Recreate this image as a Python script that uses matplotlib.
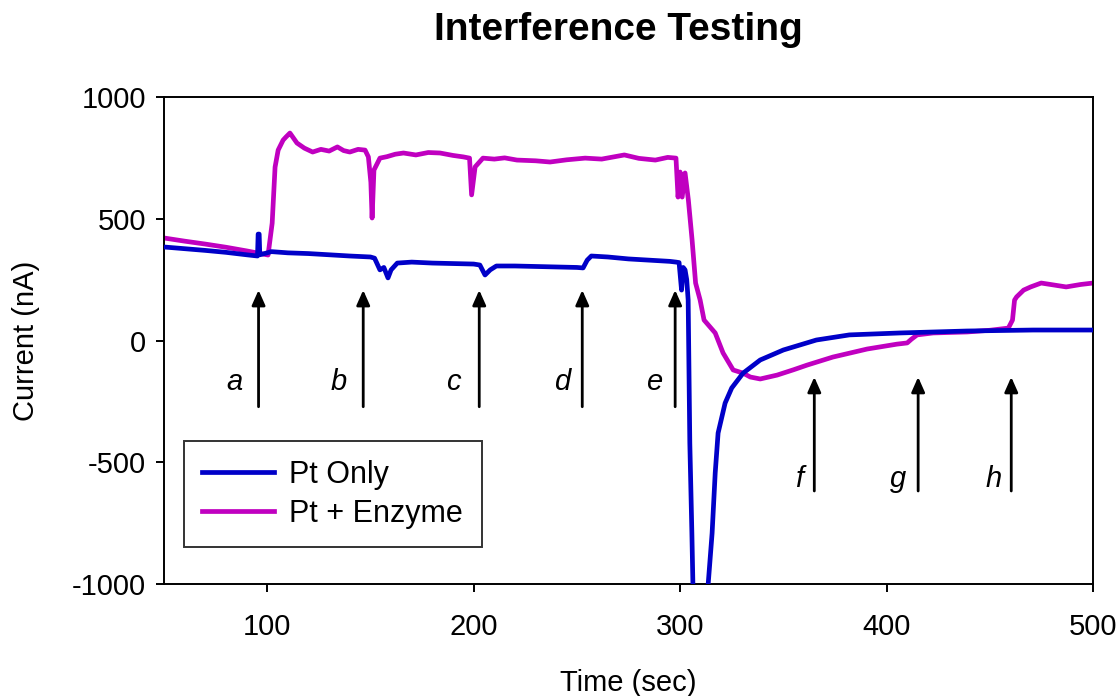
import matplotlib
matplotlib.use("Agg")
import matplotlib.pyplot as plt

plt.rcParams['font.family'] = ['Liberation Sans', 'DejaVu Sans']
plt.rcParams['axes.unicode_minus'] = False

# ---- data ----
pt_only_t = [50, 60, 70, 80, 90, 95.3, 95.6, 96.1, 96.4, 100, 102, 110, 120, 130, 140,
             150, 152, 154.6, 156.5, 158.5, 160, 163, 170, 180, 190, 200, 203, 205.5,
             208, 211, 220, 230, 240, 250, 253, 255, 257, 265, 275, 285, 295, 298,
             299.5, 300.7, 301.5, 302.4, 303.2, 303.9, 304.7, 305.7, 306.2, 306.8,
             313.2, 313.6, 315.5, 317, 318.4, 321.8, 325, 330.5, 338.8, 350, 366,
             382, 406.6, 439, 471, 500]
pt_only_v = [384, 377, 370, 362, 352, 347, 437, 437, 352, 360, 365, 360, 357, 352, 347,
             343, 338, 290, 300, 257, 290, 318, 322, 318, 316, 314, 310, 269,
             290, 306, 306, 304, 302, 300, 298, 330, 347, 343, 335, 330, 325, 322,
             320, 207, 300, 290, 250, 166, -421, -791, -1000, -1100,
             -1100, -1000, -791, -544, -380, -257, -195, -134, -80, -39, 2,
             23, 31, 39, 43, 43]

enzyme_t = [50, 60, 70, 80, 90, 100.4, 102.4, 103.8, 105.3, 107.7, 109, 111, 112, 114.4,
            118, 122, 126, 130, 134, 137, 140, 144, 147.4, 149, 150.2, 150.8, 151.7,
            154.6, 158, 162, 166, 172, 178, 183.7, 190, 195, 198, 199, 200.7, 204.5,
            210, 215, 221, 230, 237, 245, 254, 262, 273, 280, 288, 294, 298, 299, 300,
            301, 302.4, 304, 305.8, 307.5, 309.7, 311.6, 317, 320.8, 325.7, 330.5,
            334, 338.8, 347, 355, 361.5, 374, 390.6, 405, 410, 412, 414.8, 422.6,
            439, 450, 459, 461, 462, 463, 466.4, 469.8, 474.9, 481, 487, 494, 500]
enzyme_v = [421, 408, 396, 383, 368, 351, 482, 712, 782, 823, 835, 852, 840, 811,
            790, 774, 785, 778, 795, 780, 774, 785, 782, 754, 650, 503, 700,
            749, 755, 765, 770, 762, 772, 770, 760, 754, 749, 598, 713, 749,
            745, 750, 741, 738, 733, 742, 749, 745, 762, 748, 741, 752, 749, 589, 692,
            589, 688, 577, 413, 236, 166, 84, 31, -51, -121, -134,
            -150, -158, -142, -120, -101, -68, -35, -15, -10, 5, 23, 31,
            35, 42, 51, 84, 166, 179, 207, 220, 236, 228, 220, 230, 236]

arrow_labels = ['a', 'b', 'c', 'd', 'e', 'f', 'g', 'h']
arrow_x = [95.8, 146.5, 202.7, 252.6, 297.6, 365, 415.3, 460.4]
arrow_tip = [207, 207, 207, 207, 207, -150, -150, -150]
arrow_base = [-272, -272, -272, -272, -272, -618, -618, -618]
label_x = [84.1, 134.6, 190.4, 242.8, 287.3, 357.7, 405.6, 451.7]
label_y = [-203, -203, -203, -203, -203, -602, -602, -602]

x_ticks = [100, 200, 300, 400, 500]
y_ticks = [-1000, -500, 0, 500, 1000]

# ---- figure ----
fig = plt.figure(figsize=(11.2, 6.96), dpi=100)
ax = fig.add_axes([164/1120, 1-584/696, (1093-164)/1120, (584-97)/696])

ax.plot(pt_only_t, pt_only_v, color='#0000C8', lw=3.4, label='Pt Only', zorder=3)
ax.plot(enzyme_t, enzyme_v, color='#C000C0', lw=3.4, label='Pt + Enzyme', zorder=2)

for lab, x, tip, base, lx, ly in zip(arrow_labels, arrow_x, arrow_tip, arrow_base,
                                     label_x, label_y):
    ax.annotate('', xy=(x, tip), xytext=(x, base),
                arrowprops=dict(arrowstyle='-|>,head_length=0.45,head_width=0.2',
                                lw=2, color='black', shrinkA=0, shrinkB=0,
                                mutation_scale=20))
    ax.text(lx, ly, lab, fontsize=21, style='italic', ha='center', va='baseline')

ax.set_xlim(50, 500)
ax.set_ylim(-1000, 1000)
ax.set_xticks(x_ticks)
ax.set_yticks(y_ticks)
ax.tick_params(axis='both', direction='out', length=6, width=1.4, labelsize=21)
ax.tick_params(axis='y', pad=7)
ax.tick_params(axis='x', pad=15)
for s in ax.spines.values():
    s.set_linewidth(1.4)

ax.set_xlabel('Time (sec)', fontsize=21, va='center')
ax.xaxis.set_label_coords(0.5, (584-683)/487)
ax.set_ylabel('Current (nA)', fontsize=21, va='center')
ax.yaxis.set_label_coords((26-164)/929, 0.5)

fig.suptitle('Interference Testing', fontsize=28, fontweight='bold',
             x=618/1120, y=1-30/696, va='center')

leg = ax.legend(loc='lower left', bbox_to_anchor=((184-164)/929, (584-547)/487),
                borderaxespad=0, fontsize=22, frameon=True, fancybox=False,
                edgecolor='black', handlelength=2.35, handletextpad=0.5,
                borderpad=0.6, labelspacing=0.3)
leg.get_frame().set_linewidth(1.4)

fig.savefig('out.png', dpi=100)
